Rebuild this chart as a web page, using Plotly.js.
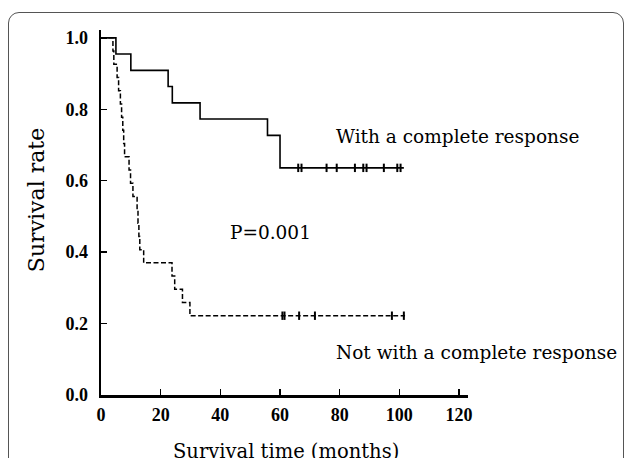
<!DOCTYPE html>
<html>
<head>
<meta charset="utf-8">
<script src="https://cdn.plot.ly/plotly-3.0.1.min.js"></script>
<style>
  html, body { margin: 0; padding: 0; width: 629px; height: 458px; overflow: hidden; background: #ffffff; }
  #frame { position: absolute; left: 8px; top: 12px; width: 614px; height: 480px;
           border: 1.5px solid #555555; border-radius: 11px; }
  #chart { position: absolute; left: 0; top: 0; width: 629px; height: 458px; }
</style>
</head>
<body>
<div id="frame"></div>
<div id="chart"></div>
<script>
// Complete response group: event times (months) and survival after each event
const crTimes = [0, 5.0, 10.0, 22.5, 23.9, 33.2, 55.8, 60.0];
const crSurv  = [1.0, 0.955, 0.909, 0.864, 0.818, 0.773, 0.727, 0.636];
const crEnd   = 101.5;
const crCensor = [66.1, 67.2, 75.6, 79.0, 85.1, 87.9, 89.0, 94.8, 99.3, 100.4];

// Not complete response group
const ncrTimes = [0, 4.0, 4.3, 5.4, 5.9, 6.5, 6.9, 7.3, 7.6, 7.9, 9.4, 9.9, 10.7, 12.1, 12.4, 12.7, 13.0, 14.3, 23.8, 24.7, 27.3, 29.8];
const ncrSurv  = [1.0, 0.963, 0.926, 0.889, 0.852, 0.815, 0.778, 0.741, 0.704, 0.667, 0.630, 0.593, 0.556, 0.519, 0.481, 0.444, 0.407, 0.370, 0.333, 0.296, 0.259, 0.222];
const ncrEnd   = 101.9;
const ncrCensor = [60.8, 61.5, 66.4, 71.7, 97.5, 101.5];

const xTickVals = [0, 20, 40, 60, 80, 100, 120];
const yTickVals = [0.0, 0.2, 0.4, 0.6, 0.8, 1.0];

const labelCR = "With a complete response";
const labelNCR = "Not with a complete response";
const pLabel = "P=0.001";
const xTitle = "Survival time (months)";
const yTitle = "Survival rate";

function survAt(times, surv, t) {
  let s = surv[0];
  for (let i = 0; i < times.length; i++) { if (times[i] <= t) s = surv[i]; }
  return s;
}

const FONT = "DejaVu Serif, Liberation Serif, serif";
const TICKFONT = "Liberation Serif, DejaVu Serif, serif";

const traces = [
  { x: crTimes.concat([crEnd]), y: crSurv.concat([crSurv[crSurv.length - 1]]),
    mode: "lines", line: { shape: "hv", color: "#000", width: 1.6 }, hoverinfo: "skip" },
  { x: ncrTimes.concat([ncrEnd]), y: ncrSurv.concat([ncrSurv[ncrSurv.length - 1]]),
    mode: "lines", line: { shape: "hv", color: "#000", width: 1.5, dash: "5px,2.5px" }, hoverinfo: "skip" },
  { x: crCensor, y: crCensor.map(t => survAt(crTimes, crSurv, t)), mode: "markers",
    marker: { symbol: "line-ns", size: 6, line: { color: "#000", width: 2 } }, hoverinfo: "skip" },
  { x: ncrCensor, y: ncrCensor.map(t => survAt(ncrTimes, ncrSurv, t)), mode: "markers",
    marker: { symbol: "line-ns", size: 6, line: { color: "#000", width: 2 } }, hoverinfo: "skip" }
];

const layout = {
  width: 629, height: 458,
  margin: { l: 101, r: 161, t: 30, b: 63 },
  paper_bgcolor: "rgba(0,0,0,0)", plot_bgcolor: "rgba(0,0,0,0)",
  showlegend: false,
  font: { family: FONT, color: "#000", size: 14 },
  xaxis: {
    range: [0, 123], tickvals: xTickVals, ticktext: xTickVals.map(v => "<b>" + v + "</b>"),
    ticks: "inside", ticklen: 6, tickwidth: 1.5, tickcolor: "#000",
    showline: true, linecolor: "#000", linewidth: 2.5, showgrid: false, zeroline: false,
    tickfont: { family: TICKFONT, size: 18, color: "#000" },
    ticklabelstandoff: 2
  },
  yaxis: {
    range: [0, 1.022], tickvals: yTickVals, ticktext: yTickVals.map(v => "<b>" + v.toFixed(1) + "</b>"),
    ticks: "inside", ticklen: 6, tickwidth: 1.5, tickcolor: "#000",
    showline: true, linecolor: "#000", linewidth: 2.5, showgrid: false, zeroline: false,
    tickfont: { family: TICKFONT, size: 18, color: "#000" },
    ticklabelstandoff: 7
  },
  annotations: [
    { x: 78.2, y: 0.723, xref: "x", yref: "y", text: labelCR, showarrow: false,
      xanchor: "left", yanchor: "middle", font: { family: FONT, size: 18.5, color: "#000" } },
    { x: 78.2, y: 0.12, xref: "x", yref: "y", text: labelNCR, showarrow: false,
      xanchor: "left", yanchor: "middle", font: { family: FONT, size: 18.5, color: "#000" } },
    { x: 42.4, y: 0.454, xref: "x", yref: "y", text: pLabel, showarrow: false,
      xanchor: "left", yanchor: "middle", font: { family: FONT, size: 18.5, color: "#000" } },
    { x: 0.504, y: -0.156, xref: "paper", yref: "paper", text: xTitle, showarrow: false,
      xanchor: "center", yanchor: "middle", font: { family: FONT, size: 19.5, color: "#000" } },
    { x: -0.177, y: 0.534, xref: "paper", yref: "paper", text: yTitle, showarrow: false, textangle: -90,
      xanchor: "center", yanchor: "middle", font: { family: FONT, size: 22, color: "#000" } }
  ]
};

Plotly.newPlot("chart", traces, layout, { displayModeBar: false, staticPlot: true });
</script>
</body>
</html>
